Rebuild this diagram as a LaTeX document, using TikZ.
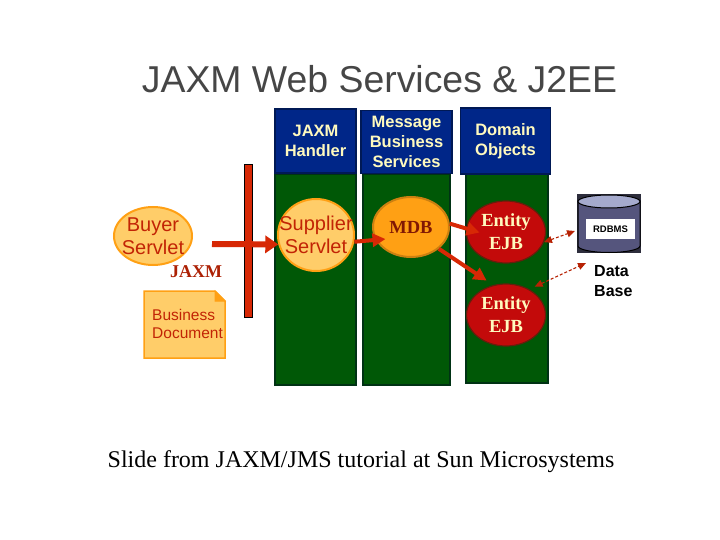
\documentclass[tikz,border=0pt]{standalone}
\usepackage{fontspec}
\setmainfont{Liberation Serif}
\setsansfont{Liberation Sans}
\usetikzlibrary{positioning, arrows.meta, shapes.geometric}

\definecolor{headblue}{RGB}{0,38,136}
\definecolor{headline}{RGB}{0,25,85}
\definecolor{colgreen}{RGB}{0,88,6}
\definecolor{colline}{RGB}{0,50,20}
\definecolor{paleyellow}{RGB}{255,250,190}
\definecolor{lightorange}{RGB}{255,205,105}
\definecolor{midorange}{RGB}{255,160,20}
\definecolor{linered}{RGB}{215,40,5}
\definecolor{darkred}{RGB}{195,10,10}
\definecolor{titlegray}{RGB}{70,70,70}
\definecolor{dbdark}{RGB}{45,45,60}
\definecolor{dbbody}{RGB}{85,85,125}
\definecolor{dbtop}{RGB}{165,170,205}

\begin{document}
\begin{tikzpicture}[
    x=1pt,
    y=-1pt,
    >=stealth,
    column/.style={rectangle, draw=colline, line width=1.5pt, fill=colgreen, inner sep=0pt},
    header/.style={rectangle, draw=headline, line width=1.5pt, fill=headblue, inner sep=0pt, align=center,
        text=paleyellow, font=\sffamily\bfseries\fontsize{16.5}{20}\selectfont},
    lightoval/.style={ellipse, draw=midorange, line width=2pt, fill=lightorange, inner sep=-20pt, align=center,
        text=linered!90!black, font=\sffamily\fontsize{20}{23}\selectfont},
    ejb/.style={ellipse, draw=colline!60!red, line width=1.2pt, fill=darkred, inner sep=-20pt, align=center,
        text=paleyellow, minimum width=79pt, minimum height=62pt, font=\bfseries\fontsize{18.5}{23}\selectfont},
    bigflow/.style={draw=linered, line width=6pt, -{Triangle[length=13pt,width=17pt]}},
    flow/.style={draw=linered, line width=4pt, -{Triangle[length=13pt,width=13pt]}},
    dbflow/.style={draw=linered!85!black, line width=1.1pt, densely dashed, {Triangle[length=8pt,width=7pt]}-{Triangle[length=8pt,width=7pt]}},
]
\useasboundingbox (0,0) rectangle (720,540);

%---------------- Title and caption ----------------
\node[text=titlegray, font=\sffamily\fontsize{37.4}{40}\selectfont] (Title) at (379.5,79) {JAXM Web Services \& J2EE};
\node[font=\fontsize{24}{26}\selectfont] (Caption) at (361,462) {Slide from JAXM/JMS tutorial at Sun Microsystems};

%---------------- Columns ----------------
\foreach \name/\x/\w/\h in {ColA/315.5/81/210, ColB/406.5/87/210, ColC/507/82/208} {
    \node[column, minimum width=\w pt, minimum height=\h pt, anchor=north] (\name) at (\x,174) {};
}

%---------------- Headers ----------------
\node[header, minimum width=81pt, minimum height=64pt] (HeadA) at (315.5,141) {JAXM\\Handler};
\node[header, minimum width=91pt, minimum height=63pt] (HeadB) at (406.5,142) {Message\\Business\\Services};
\node[header, minimum width=90pt, minimum height=66pt] (HeadC) at (505.5,141) {Domain\\Objects};

%---------------- Left side ----------------
\node[rectangle, draw=black, line width=1pt, fill=linered, minimum width=8pt, minimum height=152pt, inner sep=0pt] (Bar) at (248.5,241) {};
\node[lightoval, minimum width=78pt, minimum height=58pt] (Buyer) at (153,236) {Buyer\\Servlet};
\node[text=linered!80!black, font=\bfseries\fontsize{18}{20}\selectfont] (Jaxm) at (196,272) {JAXM};
\draw[draw=midorange, line width=1.5pt, fill=lightorange] (144,291) -- (215,291) -- (225,301) -- (225,358) -- (144,358) -- cycle;
\draw[draw=midorange, line width=1pt, fill=midorange] (215,291) -- (215,301) -- (225,301) -- cycle;
\node[text=linered!90!black, align=left, font=\sffamily\fontsize{15.5}{18}\selectfont, inner sep=0pt, anchor=west] (Document) at (152,324) {Business\\Document};

%---------------- Ovals ----------------
\node[lightoval, minimum width=76pt, minimum height=72pt] (Supplier) at (316,235) {Supplier\\Servlet};
\node[ellipse, draw=midorange!80!black, line width=2pt, fill=midorange, minimum width=76pt, minimum height=60pt, inner sep=-5pt,
    text=linered!60!black, font=\bfseries\fontsize{18.5}{20}\selectfont] (MDB) at (411,227) {MDB};
\node[ejb] (Entity1) at (506,232) {Entity\\EJB};
\node[ejb] (Entity2) at (506,315) {Entity\\EJB};

%---------------- Data base ----------------
\fill[dbdark] (577,194) rectangle (641,253);
\draw[draw=black, line width=1pt, fill=dbbody] (578,201) -- (578,246) arc[start angle=180, end angle=360, x radius=31, y radius=-6.5] -- (640,201) -- cycle;
\draw[draw=black, line width=1pt, fill=dbtop] (609,201.5) ellipse[x radius=31, y radius=6.5];
\node[rectangle, fill=white, minimum width=49pt, minimum height=20pt, inner sep=0pt, font=\sffamily\bfseries\fontsize{9.5}{10}\selectfont] (Rdbms) at (610.5,229) {RDBMS};
\node[align=left, inner sep=0pt, anchor=west, font=\sffamily\bfseries\fontsize{16}{20}\selectfont] (Data) at (594,281) {Data\\Base};

%---------------- Connections ----------------
\coordinate (FlowStart) at (212,244);
\coordinate (DbIn1) at (575,231);
\coordinate (DbIn2) at (586,263);

\draw[bigflow] (FlowStart) -- (Supplier.194);
\draw[flow, shorten >=-10pt] (Supplier.-10) -- (MDB.200);
\draw[flow, shorten >=-14pt] (MDB.5) -- (Entity1.175);
\draw[flow, shorten >=8pt] (MDB.-38) -- (Entity2.113);
\draw[dbflow] (Entity1.-15) -- (DbIn1);
\draw[dbflow, shorten <=6pt] (Entity2.48) -- (DbIn2);
\end{tikzpicture}
\end{document}
